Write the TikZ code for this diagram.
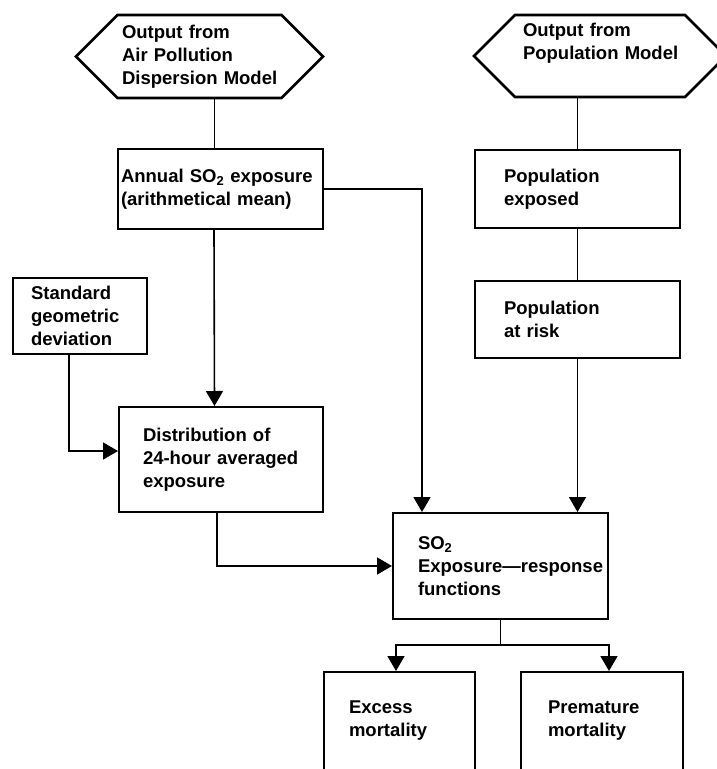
\documentclass[tikz,border=0pt]{standalone}
\usepackage{fontspec}
\setmainfont{Liberation Sans}
\usepackage{tikz}
\usetikzlibrary{positioning, arrows.meta, shapes}
\hyphenpenalty=10000
\exhyphenpenalty=10000

\begin{document}
\begin{tikzpicture}[x=1pt, y=-1pt, node distance=51pt, font=\bfseries\fontsize{18.5}{23}\selectfont]
    % Define styles
    \tikzstyle{block} = [rectangle, draw, line width=2pt, anchor=north west, align=left, inner sep=0pt]
    \tikzstyle{source} = [signal, signal to=east and west, signal pointer angle=90, draw, line width=2.6pt, align=left, inner sep=0pt]
    \tikzstyle{arrow} = [line width=1.6pt, -{Triangle[width=17pt, length=15pt]}]
    \tikzstyle{stem} = [line width=1pt]

    \useasboundingbox (0,0) rectangle (717,769);
    \clip (0,0) rectangle (717,769);

    % Model outputs (~ keeps each line whole)
    \node [source, minimum width=247, minimum height=83, text width=155] (hexair) at (199.5,56.5) {Output~from\\Air~Pollution\\Dispersion~Model};
    \node [source, minimum width=252, minimum height=82, text width=154] (hexpop) at (600,56) {Output~from\\Population~Model\\\strut};

    % Boxes
    \node [block, minimum width=205, minimum height=80, text width=199] (annual) at (117,148) {Annual~SO\textsubscript{2}~exposure\\(arithmetical~mean)};
    \node [block, minimum width=134, minimum height=76, text width=98] (std) at (12,277) {Standard\\geometric\\deviation};
    \node [block, minimum width=204, minimum height=105, text width=156] (dist) at (118,406) {Distribution~of\\24-hour~averaged\\exposure};
    \node [block, minimum width=205, minimum height=78, text width=147] (popexp) at (474,149) {Population\\exposed};
    \node [block, minimum width=205, minimum height=77, text width=147, below=51pt of popexp] (poprisk) {Population\\at~risk};
    \node [block, minimum width=215, minimum height=106, text width=165] (erf) at (392,512) {SO\textsubscript{2}\\Exposure\textemdash response\\functions};
    \node [block, minimum width=151, text width=101, inner ysep=29pt, text depth=90pt] (excess) at (323,671) {Excess\\mortality};
    \node [block, minimum width=162, text width=108, inner ysep=29pt, text depth=90pt] (premature) at (520,671) {Premature\\mortality};

    % Arrows
    \draw [stem] ([xshift=-6.5]annual.north |- hexair.south) -- ([xshift=-6.5]annual.north);
    \draw [arrow] ([xshift=-6.5]annual.south) -- ([xshift=-6.5]dist.north);
    \draw [arrow] (annual.east) -| ([xshift=30]erf.north west);
    \draw [arrow] ([xshift=-11]std.south) |- ([yshift=8.5]dist.west);
    \draw [arrow] ([xshift=-4]dist.south) |- (erf.west);
    \draw [stem] (popexp.north |- hexpop.south) -- (popexp.north);
    \draw [stem] (popexp.south) -- (poprisk.north);
    \draw [arrow] (poprisk.south) -- (poprisk.south |- erf.north);
    \coordinate [below=25pt of erf.south] (split);
    \draw [line width=1.6pt] (erf.south) -- (split);
    \draw [arrow] (split) -| ([xshift=-3.5]excess.north);
    \draw [arrow] (split) -| ([xshift=7]premature.north);
\end{tikzpicture}
\end{document}
